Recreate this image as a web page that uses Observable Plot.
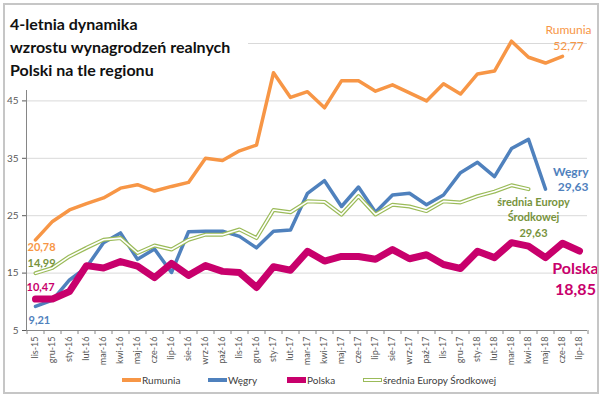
<!DOCTYPE html>
<html>
<head>
<meta charset="utf-8">
<script src="https://cdn.jsdelivr.net/npm/d3@7"></script>
<script src="https://cdn.jsdelivr.net/npm/@observablehq/plot@0.6"></script>
<style>
  body { margin: 0; background: #fff; }
  #wrap { position: relative; width: 600px; height: 396px; font-family: Lato, "Open Sans", sans-serif; overflow: hidden; }
  #chart { position: absolute; left: 0; top: 0; }
  #border { position: absolute; left: 3px; top: 3px; width: 592px; height: 387px; border: 2px solid #C6C6C6; pointer-events: none; }
  #title { position: absolute; left: 5px; top: 5px; width: 238px; height: 78px; padding: 7px 0 0 5px; background: #fff;
           font-weight: bold; font-size: 16px; line-height: 23px; color: #111; }
  .leg { position: absolute; top: 373px; font-size: 10px; color: #404040; line-height: 14px; white-space: nowrap; }
  .sw { display: inline-block; vertical-align: middle; width: 19px; margin-right: 1px; position: relative; top: -1px; }
</style>
</head>
<body>
<div id="wrap">
  <div id="chart"></div>
  <div id="title"></div>
  <div id="legend"></div>
  <div id="border"></div>
</div>
<script>
const months = ["lis-15","gru-15","sty-16","lut-16","mar-16","kwi-16","maj-16","cze-16","lip-16","sie-16","wrz-16","paź-16","lis-16","gru-16","sty-17","lut-17","mar-17","kwi-17","maj-17","cze-17","lip-17","sie-17","wrz-17","paź-17","lis-17","gru-17","sty-18","lut-18","mar-18","kwi-18","maj-18","cze-18","lip-18"];
const rumunia = [20.78, 24.0, 26.0, 27.1, 28.1, 29.8, 30.4, 29.3, 30.1, 30.8, 35.0, 34.6, 36.3, 37.3, 49.9, 45.6, 46.6, 43.8, 48.5, 48.5, 46.7, 47.8, 46.4, 45.0, 48.0, 46.2, 49.7, 50.2, 55.4, 52.6, 51.6, 52.77];
const wegry = [9.21, 10.3, 13.8, 16.0, 20.3, 22.0, 17.4, 19.2, 15.1, 22.2, 22.3, 22.3, 21.4, 19.4, 22.3, 22.5, 28.9, 31.1, 26.6, 30.0, 25.6, 28.6, 28.9, 26.9, 28.6, 32.5, 34.3, 31.8, 36.7, 38.3, 29.63];
const polska = [10.47, 10.5, 11.8, 16.3, 15.9, 17.0, 16.2, 14.2, 16.7, 14.6, 16.3, 15.3, 15.1, 12.5, 16.1, 15.5, 18.8, 17.1, 17.9, 17.9, 17.4, 19.1, 17.5, 18.2, 16.5, 15.8, 18.8, 17.7, 20.3, 19.7, 17.7, 20.2, 18.85];
const srednia = [14.99, 15.9, 17.9, 19.4, 20.8, 21.1, 18.5, 19.8, 19.1, 20.8, 21.7, 21.7, 22.6, 21.1, 26.0, 25.6, 27.5, 27.4, 25.2, 28.4, 25.2, 26.9, 26.6, 25.8, 27.5, 27.3, 28.4, 29.2, 30.3, 29.63];
const seriesNames = ["Rumunia", "Węgry", "Polska", "średnia Europy Środkowej"];
const yTicks = [5, 15, 25, 35, 45];
const gridTicks = [15, 25, 35, 45, 55];
const titleLines = ["4-letnia dynamika", "wzrostu wynagrodzeń realnych", "Polski na tle regionu"];

const C = {rum: "#F79646", weg: "#4F81BD", pol: "#C8006C", sre: "#9BBB59", sreText: "#77933C"};

const rows = arr => arr.map((v, i) => ({m: months[i], v}));
const fmt = v => d3.format(".2f")(v).replace(".", ",");
const first = arr => [{m: months[0], v: arr[0]}];
const last = arr => [{m: months[arr.length - 1], v: arr[arr.length - 1]}];

const chart = Plot.plot({
  width: 600, height: 396,
  marginLeft: 26, marginRight: 13, marginTop: 43, marginBottom: 66,
  x: {type: "point", domain: months, padding: 0.5},
  y: {domain: [5, 55]},
  style: {fontFamily: "Lato, 'Open Sans', sans-serif", background: "transparent"},
  marks: [
    Plot.ruleY(gridTicks, {stroke: "#D9D9D9", strokeWidth: 1}),
    Plot.ruleY([5], {stroke: "#868686"}),
    Plot.frame({anchor: "left", stroke: "#868686"}),
    Plot.ruleX(months, {x: d => d, y1: 5, y2: 4.3, dx: -8.5, stroke: "#868686"}),
    Plot.ruleX(months.slice(-1), {x: d => d, y1: 5, y2: 4.3, dx: 8.5, stroke: "#868686"}),
    Plot.axisY({ticks: yTicks, tickSize: 4, tickPadding: 4, fontSize: 10, color: "#595959", label: null}),
    Plot.axisX({tickSize: 0, tickRotate: -90, tickPadding: 6, fontSize: 9, color: "#595959", label: null}),
    Plot.line(rows(rumunia), {x: "m", y: "v", stroke: C.rum, strokeWidth: 3.5}),
    Plot.line(rows(wegry), {x: "m", y: "v", stroke: C.weg, strokeWidth: 3.5}),
    Plot.line(rows(polska), {x: "m", y: "v", stroke: C.pol, strokeWidth: 7}),
    Plot.line(rows(srednia), {x: "m", y: "v", stroke: C.sre, strokeWidth: 4}),
    Plot.line(rows(srednia), {x: "m", y: "v", stroke: "#fff", strokeWidth: 1.6}),
    // start labels
    Plot.text(first(rumunia), {x: "m", y: "v", text: d => fmt(d.v), textAnchor: "start", dx: -8, dy: 8, fill: C.rum, fontSize: 11, fontWeight: "bold"}),
    Plot.text(first(srednia), {x: "m", y: "v", text: d => fmt(d.v), textAnchor: "start", dx: -8, dy: -10, fill: C.sreText, fontSize: 11, fontWeight: "bold"}),
    Plot.text(first(polska), {x: "m", y: "v", text: d => fmt(d.v), textAnchor: "start", dx: -9, dy: -12, fill: C.pol, fontSize: 11, fontWeight: "bold"}),
    Plot.text(first(wegry), {x: "m", y: "v", text: d => fmt(d.v), textAnchor: "start", dx: -7, dy: 14, fill: C.weg, fontSize: 11, fontWeight: "bold"}),
    // end labels
    Plot.text(last(rumunia), {x: "m", y: "v", text: d => seriesNames[0] + "\n" + fmt(d.v), textAnchor: "middle", lineAnchor: "bottom", lineHeight: 1.35, dx: 6, dy: -6, fill: C.rum, fontSize: 12}),
    Plot.text(last(wegry), {x: "m", y: "v", text: d => seriesNames[1] + "\n" + fmt(d.v), textAnchor: "end", lineAnchor: "bottom", lineHeight: 1.25, dx: 43, dy: 2, fill: C.weg, fontSize: 12, fontWeight: "bold"}),
    Plot.text(last(srednia), {x: "m", y: "v", text: d => "średnia Europy\nŚrodkowej\n" + fmt(d.v), textAnchor: "middle", lineAnchor: "top", lineHeight: 1.4, dx: 5, dy: 6, fill: C.sreText, fontSize: 11, fontWeight: "bold"}),
    Plot.text(last(polska), {x: "m", y: "v", text: d => seriesNames[2] + "\n" + fmt(d.v), textAnchor: "middle", lineAnchor: "top", lineHeight: 1.3, dx: -4, dy: 8, fill: C.pol, fontSize: 16, fontWeight: "bold"})
  ]
});
document.getElementById("chart").appendChild(chart);

document.getElementById("title").innerHTML = titleLines.join("<br>");

const legendItems = [
  {name: seriesNames[0], color: C.rum, left: 122, h: 4, outline: false},
  {name: seriesNames[1], color: C.weg, left: 208, h: 4, outline: false},
  {name: seriesNames[2], color: C.pol, left: 287, h: 6, outline: false},
  {name: seriesNames[3], color: C.sre, left: 363, h: 4, outline: true}
];
const leg = document.getElementById("legend");
legendItems.forEach(it => {
  const d = document.createElement("div");
  d.className = "leg";
  d.style.left = it.left + "px";
  const sw = document.createElement("span");
  sw.className = "sw";
  sw.style.height = it.h + "px";
  if (it.outline) { sw.style.border = "1px solid " + it.color; sw.style.height = "2px"; sw.style.background = "#fff"; sw.style.width = "17px"; }
  else sw.style.background = it.color;
  d.appendChild(sw);
  d.appendChild(document.createTextNode(it.name));
  leg.appendChild(d);
});
</script>
</body>
</html>
